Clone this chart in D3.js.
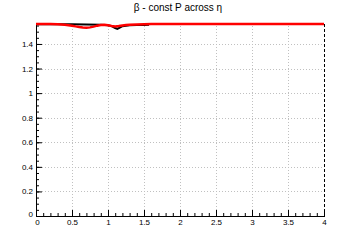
<!DOCTYPE html>
<html><head><meta charset="utf-8">
<script src="https://cdn.jsdelivr.net/npm/d3@7"></script>
<style>body{margin:0;background:#fff}svg{display:block}</style>
</head><body>
<svg id="c" width="360" height="240"></svg>
<script>
const titleText = "β - const P across η";
const xTicks = [0, 0.5, 1, 1.5, 2, 2.5, 3, 3.5, 4];
const xTickLabels = ["0", "0.5", "1", "1.5", "2", "2.5", "3", "3.5", "4"];
const yTicks = [0, 0.2, 0.4, 0.6, 0.8, 1, 1.2, 1.4];
const yTickLabels = ["0", "0.2", "0.4", "0.6", "0.8", "1", "1.2", "1.4"];

const blackX = [0, 0.3, 0.5, 0.7, 0.9, 1.0, 1.05, 1.1, 1.13, 1.17, 1.2, 1.3, 1.4, 1.5, 1.57];
const blackY = [1.561, 1.561, 1.560, 1.559, 1.557, 1.553, 1.545, 1.530, 1.522, 1.535, 1.545, 1.552, 1.554, 1.555, 1.556];

const redX = [0, 0.2, 0.3, 0.35, 0.4, 0.45, 0.5, 0.55, 0.6, 0.65, 0.7, 0.75, 0.8, 0.85, 0.9, 0.95, 1.0, 1.05, 1.1, 1.15, 1.2, 1.25, 1.3, 1.4, 1.5, 1.6, 2, 3, 4];
const redY = [1.562, 1.562, 1.561, 1.559, 1.556, 1.553, 1.549, 1.543, 1.538, 1.534, 1.532, 1.535, 1.541, 1.549, 1.554, 1.556, 1.553, 1.547, 1.543, 1.546, 1.551, 1.555, 1.557, 1.559, 1.561, 1.562, 1.562, 1.562, 1.562];

const svg = d3.select("#c");
const L = 36, R = 324, T = 24, B = 216;
const x = d3.scaleLinear().domain([0, 4]).range([L, R]);
const y = d3.scaleLinear().domain([0, 1.5625]).range([B, T]);
const font = "'Liberation Sans', Arial, sans-serif";

// grid
svg.append("g").selectAll("line").data(xTicks.slice(1, -1)).join("line")
  .attr("x1", d => x(d)).attr("x2", d => x(d)).attr("y1", B).attr("y2", T)
  .attr("stroke", "#c0c0c0").attr("stroke-width", 1).attr("stroke-dasharray", "1,2")
  .attr("shape-rendering", "crispEdges");
svg.append("g").selectAll("line").data(yTicks.slice(1)).join("line")
  .attr("x1", L).attr("x2", R).attr("y1", d => Math.round(y(d)) + 0.5).attr("y2", d => Math.round(y(d)) + 0.5)
  .attr("stroke", "#c0c0c0").attr("stroke-width", 1).attr("stroke-dasharray", "1,2");

// axes with inward ticks
const xMinor = d3.range(0, 4.0001, 0.1).map(v => +v.toFixed(2));
const yMinor = d3.range(0, 1.56, 0.05).map(v => +v.toFixed(2));
const gx = svg.append("g").attr("transform", `translate(0,${B})`);
gx.call(d3.axisBottom(x).tickValues(xMinor).tickSize(-3).tickFormat(""));
gx.call(g => g.selectAll(".tick line").attr("stroke", "#000"));
const gx2 = svg.append("g").attr("transform", `translate(0,${B})`);
gx2.call(d3.axisBottom(x).tickValues(xTicks).tickSize(-6).tickPadding(8).tickFormat((d, i) => xTickLabels[i]));
gx2.selectAll("text").attr("font-family", font).attr("font-size", 8).attr("fill", "#000").attr("dy", "0.71em").attr("y", 3);
svg.selectAll(".domain").remove();

const gy = svg.append("g").attr("transform", `translate(${L},0)`);
gy.call(d3.axisLeft(y).tickValues(yMinor).tickSize(-3).tickFormat(""));
const gy2 = svg.append("g").attr("transform", `translate(${L},0)`);
gy2.call(d3.axisLeft(y).tickValues(yTicks).tickSize(-6).tickPadding(3).tickFormat((d, i) => yTickLabels[i]));
gy2.selectAll("text").attr("font-family", font).attr("font-size", 8).attr("fill", "#000").attr("x", -3);
svg.selectAll(".domain").remove();
// adjust origin labels like ROOT
gy2.selectAll("text").filter(d => d === 0).attr("dy", "0.1em");
gx2.selectAll("text").filter(d => d === 0).attr("x", 1);

// frame
svg.append("line").attr("x1", L + 0.5).attr("x2", L + 0.5).attr("y1", T).attr("y2", B + 1).attr("stroke", "#000");
svg.append("line").attr("x1", L).attr("x2", R + 1).attr("y1", B + 0.5).attr("y2", B + 0.5).attr("stroke", "#000");
svg.append("line").attr("x1", R + 0.5).attr("x2", R + 0.5).attr("y1", T).attr("y2", B).attr("stroke", "#000").attr("stroke-dasharray", "3,2");

// series
const line = d3.line().x(d => x(d[0])).y(d => y(d[1]));
svg.append("path").datum(blackX.map((v, i) => [v, blackY[i]]))
  .attr("d", line).attr("fill", "none").attr("stroke", "#000").attr("stroke-width", 2);
svg.append("path").datum(redX.map((v, i) => [v, redY[i]]))
  .attr("d", line).attr("fill", "none").attr("stroke", "#ff0000").attr("stroke-width", 2.5);

// title
svg.append("text").attr("x", 178).attr("y", 11).attr("text-anchor", "middle")
  .attr("font-family", font).attr("font-size", 10).attr("fill", "#000").text(titleText);
</script>
</body></html>
